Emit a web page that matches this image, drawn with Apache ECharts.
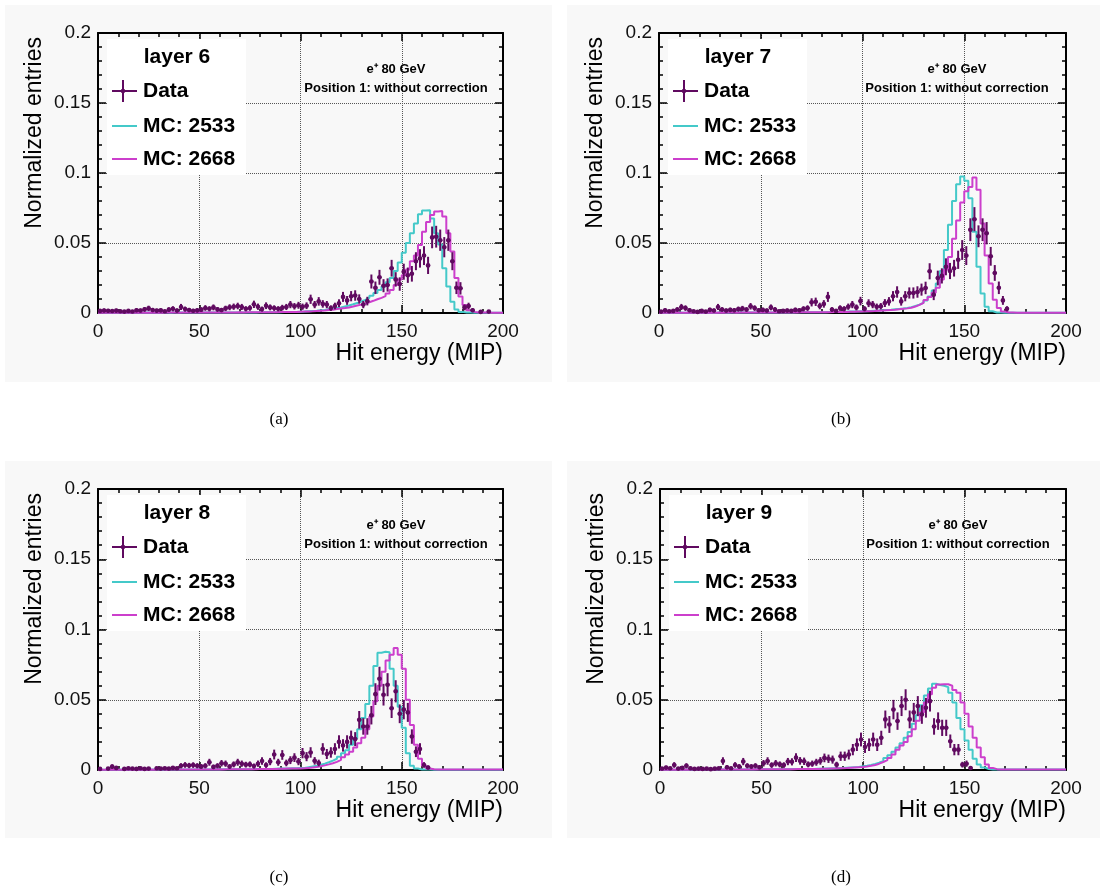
<!DOCTYPE html>
<html>
<head>
<meta charset="utf-8">
<script src="https://cdn.jsdelivr.net/npm/echarts/dist/echarts.min.js"></script>
<style>
html,body{margin:0;padding:0;background:#ffffff;}
#chart{width:1104px;height:893px;}
</style>
</head>
<body>
<div id="chart"></div>
<script>
// ---------------- DATA ----------------
// Histograms: 100 bins of 2 MIP from 0 to 200 MIP; value = normalized entries per bin.
const BIN_WIDTH = 2;
const X_MIN = 0, X_MAX = 200;
const xTickLabels = ['0', '50', '100', '150', '200'];
const yTickLabels = ['0', '0.05', '0.1', '0.15', '0.2'];

const layerLabels = ['layer 6', 'layer 7', 'layer 8', 'layer 9'];
const panelCaptions = ['(a)', '(b)', '(c)', '(d)'];
const seriesNames = ['Data', 'MC: 2533', 'MC: 2668'];
const annotationLines = ['e\u207A 80 GeV', 'Position 1: without correction'];
const xTitle = 'Hit energy (MIP)';
const yTitle = 'Normalized entries';
// approximate number of data entries per panel (sets the Poisson error bars)
const dataEntries = [900, 900, 900, 900];

// ---- layer 6 ----
const layer6_mc2533 = [
0.0003,0.0002,0.0003,0.0002,0.0002,0.0003,0.0002,0.0002,0.0003,0.0002,
0.0002,0.0003,0.0002,0.0003,0.0002,0.0003,0.0003,0.0002,0.0003,0.0003,
0.0003,0.0003,0.0003,0.0004,0.0003,0.0003,0.0004,0.0004,0.0004,0.0004,
0.0003,0.0004,0.0003,0.0004,0.0004,0.0004,0.0004,0.0005,0.0004,0.0005,
0.0005,0.0005,0.0006,0.0006,0.0006,0.0007,0.0007,0.0008,0.0008,0.0009,
0.0010,0.0012,0.0014,0.0016,0.0019,0.0022,0.0026,0.0030,0.0035,0.0040,
0.0047,0.0054,0.0062,0.0071,0.0082,0.0094,0.0108,0.0124,0.0142,0.0165,
0.0190,0.0220,0.0250,0.0300,0.0360,0.0430,0.0500,0.0570,0.0640,0.0705,
0.0732,0.0734,0.0675,0.0570,0.0490,0.0320,0.0190,0.0080,0.0025,0.0008,
0.0004,0.0003,0.0002,0.0002,0.0002,0.0002,0.0002,0.0002,0.0002,0.0002];
const layer6_mc2668 = [
0.0002,0.0002,0.0003,0.0002,0.0002,0.0002,0.0003,0.0002,0.0002,0.0002,
0.0002,0.0002,0.0003,0.0002,0.0003,0.0002,0.0003,0.0003,0.0003,0.0002,
0.0003,0.0003,0.0003,0.0003,0.0003,0.0004,0.0003,0.0004,0.0004,0.0004,
0.0004,0.0004,0.0004,0.0004,0.0005,0.0004,0.0005,0.0005,0.0005,0.0005,
0.0005,0.0006,0.0006,0.0006,0.0007,0.0007,0.0007,0.0008,0.0008,0.0009,
0.0010,0.0011,0.0012,0.0014,0.0016,0.0018,0.0021,0.0024,0.0028,0.0032,
0.0035,0.0040,0.0046,0.0053,0.0060,0.0068,0.0077,0.0087,0.0098,0.0108,
0.0120,0.0140,0.0165,0.0200,0.0240,0.0270,0.0310,0.0370,0.0410,0.0486,
0.0580,0.0650,0.0700,0.0725,0.0728,0.0690,0.0570,0.0440,0.0250,0.0117,
0.0057,0.0020,0.0008,0.0004,0.0003,0.0003,0.0002,0.0002,0.0002,0.0002];
const layer6_data = [
0.0015,0.0018,0.0016,0.0014,0.0017,0.0012,0.0010,0.0015,0.0011,0.0020,
0.0018,0.0026,0.0033,0.0021,0.0017,0.0019,0.0012,0.0024,0.0030,0.0018,
0.0043,0.0028,0.0021,0.0016,0.0019,0.0024,0.0036,0.0030,0.0040,0.0026,
0.0021,0.0033,0.0041,0.0045,0.0050,0.0043,0.0030,0.0036,0.0062,0.0045,
0.0028,0.0052,0.0040,0.0035,0.0030,0.0038,0.0043,0.0060,0.0048,0.0055,
0.0045,0.0052,0.0098,0.0060,0.0083,0.0065,0.0060,0.0035,0.0050,0.0070,
0.0115,0.0090,0.0120,0.0125,0.0100,0.0060,0.0085,0.0225,0.0180,0.0255,
0.0195,0.0200,0.0320,0.0240,0.0207,0.0295,0.0270,0.0280,0.0370,0.0390,
0.0410,0.0340,0.0540,0.0545,0.0520,0.0470,0.0520,0.0370,0.0180,0.0176,
0.0040,0.0050,0.0020,null,0.0008,null,0.0010,null,null,null];

// ---- layer 7 ----
const layer7_mc2533 = [
0.0002,0.0003,0.0002,0.0002,0.0003,0.0002,0.0002,0.0003,0.0002,0.0002,
0.0003,0.0002,0.0003,0.0002,0.0003,0.0003,0.0002,0.0003,0.0003,0.0003,
0.0003,0.0003,0.0003,0.0004,0.0003,0.0004,0.0004,0.0004,0.0004,0.0004,
0.0004,0.0005,0.0004,0.0005,0.0005,0.0005,0.0006,0.0005,0.0006,0.0006,
0.0006,0.0007,0.0007,0.0008,0.0008,0.0009,0.0010,0.0010,0.0011,0.0012,
0.0013,0.0014,0.0016,0.0017,0.0019,0.0021,0.0023,0.0026,0.0029,0.0032,
0.0036,0.0042,0.0050,0.0060,0.0073,0.0090,0.0118,0.0160,0.0210,0.0300,
0.0450,0.0630,0.0800,0.0920,0.0975,0.0945,0.0820,0.0580,0.0330,0.0140,
0.0045,0.0012,0.0004,0.0003,0.0002,0.0002,0.0002,0.0002,0.0002,0.0002,
0.0002,0.0002,0.0002,0.0002,0.0002,0.0002,0.0002,0.0002,0.0002,0.0002];
const layer7_mc2668 = [
0.0002,0.0002,0.0002,0.0003,0.0002,0.0002,0.0002,0.0002,0.0003,0.0002,
0.0002,0.0003,0.0002,0.0002,0.0003,0.0002,0.0003,0.0003,0.0002,0.0003,
0.0003,0.0003,0.0003,0.0003,0.0004,0.0003,0.0004,0.0004,0.0004,0.0004,
0.0004,0.0004,0.0005,0.0004,0.0005,0.0005,0.0005,0.0005,0.0006,0.0006,
0.0006,0.0006,0.0007,0.0007,0.0008,0.0008,0.0009,0.0009,0.0010,0.0011,
0.0012,0.0013,0.0014,0.0016,0.0017,0.0019,0.0021,0.0023,0.0026,0.0030,
0.0033,0.0038,0.0046,0.0058,0.0072,0.0092,0.0115,0.0145,0.0180,0.0240,
0.0310,0.0400,0.0530,0.0660,0.0790,0.0870,0.0900,0.0968,0.0880,0.0640,
0.0410,0.0210,0.0095,0.0035,0.0010,0.0004,0.0003,0.0002,0.0002,0.0002,
0.0002,0.0002,0.0002,0.0002,0.0002,0.0002,0.0002,0.0002,0.0002,0.0002];
const layer7_data = [
0.0010,0.0019,0.0012,0.0015,0.0025,0.0043,0.0035,0.0020,0.0012,0.0008,
0.0015,0.0010,0.0022,0.0018,0.0043,0.0025,0.0018,0.0022,0.0020,0.0028,
0.0032,0.0025,0.0048,0.0035,0.0020,0.0022,0.0018,0.0040,0.0025,0.0012,
0.0015,0.0018,0.0015,0.0022,0.0020,0.0030,0.0035,0.0076,0.0080,0.0050,
0.0065,0.0115,0.0025,0.0015,0.0035,0.0030,0.0045,0.0060,0.0040,0.0085,
0.0030,0.0070,0.0060,0.0045,0.0048,0.0071,0.0083,0.0120,0.0150,0.0083,
0.0120,0.0143,0.0143,0.0150,0.0167,0.0179,0.0298,0.0130,0.0250,0.0265,
0.0330,0.0300,0.0320,0.0380,0.0450,0.0410,0.0595,0.0670,0.0548,0.0595,
0.0570,0.0405,0.0286,0.0180,0.0090,0.0030,null,null,null,null,
null,null,null,null,null,null,null,null,null,null];

// ---- layer 8 ----
const layer8_mc2533 = [
0.0002,0.0002,0.0003,0.0002,0.0002,0.0003,0.0002,0.0002,0.0002,0.0003,
0.0002,0.0003,0.0002,0.0003,0.0003,0.0002,0.0003,0.0003,0.0003,0.0003,
0.0003,0.0004,0.0003,0.0004,0.0004,0.0004,0.0004,0.0004,0.0005,0.0004,
0.0005,0.0005,0.0005,0.0005,0.0006,0.0006,0.0006,0.0006,0.0007,0.0007,
0.0007,0.0008,0.0008,0.0009,0.0010,0.0010,0.0011,0.0012,0.0013,0.0014,
0.0015,0.0020,0.0025,0.0030,0.0037,0.0045,0.0055,0.0067,0.0080,0.0095,
0.0120,0.0140,0.0180,0.0225,0.0290,0.0370,0.0470,0.0600,0.0740,0.0835,
0.0842,0.0838,0.0720,0.0600,0.0450,0.0300,0.0120,0.0030,0.0010,0.0004,
0.0003,0.0003,0.0002,0.0002,0.0002,0.0002,0.0002,0.0002,0.0002,0.0002,
0.0002,0.0002,0.0002,0.0002,0.0002,0.0002,0.0002,0.0002,0.0002,0.0002];
const layer8_mc2668 = [
0.0002,0.0002,0.0002,0.0003,0.0002,0.0002,0.0003,0.0002,0.0002,0.0002,
0.0003,0.0002,0.0003,0.0002,0.0003,0.0003,0.0002,0.0003,0.0003,0.0003,
0.0003,0.0003,0.0004,0.0003,0.0004,0.0004,0.0004,0.0004,0.0004,0.0005,
0.0004,0.0005,0.0005,0.0005,0.0005,0.0006,0.0006,0.0006,0.0006,0.0007,
0.0007,0.0007,0.0008,0.0008,0.0009,0.0009,0.0010,0.0010,0.0011,0.0011,
0.0012,0.0015,0.0018,0.0022,0.0027,0.0033,0.0040,0.0048,0.0058,0.0072,
0.0090,0.0110,0.0130,0.0160,0.0190,0.0230,0.0290,0.0380,0.0490,0.0600,
0.0700,0.0780,0.0820,0.0868,0.0820,0.0720,0.0500,0.0320,0.0180,0.0080,
0.0030,0.0010,0.0005,0.0004,0.0003,0.0003,0.0003,0.0003,0.0003,0.0003,
0.0003,0.0003,0.0003,0.0003,0.0003,0.0003,0.0003,0.0003,0.0003,0.0003];
const layer8_data = [
0.0008,null,0.0010,0.0024,0.0015,null,0.0008,0.0012,0.0010,0.0008,
0.0012,0.0008,0.0010,null,0.0012,0.0010,0.0012,0.0010,0.0015,0.0012,
0.0030,0.0036,0.0032,0.0035,0.0030,0.0025,0.0030,0.0055,0.0022,0.0030,
0.0048,0.0045,0.0025,0.0040,0.0055,0.0045,0.0038,0.0040,0.0028,0.0045,
0.0064,0.0035,0.0060,0.0110,0.0055,0.0107,0.0050,0.0070,0.0088,0.0060,
0.0120,0.0095,0.0125,0.0065,0.0050,0.0150,0.0114,0.0125,0.0150,0.0200,
0.0175,0.0200,0.0230,0.0220,0.0357,0.0310,0.0310,0.0390,0.0540,0.0650,
0.0536,0.0607,0.0440,0.0560,0.0400,0.0430,0.0410,0.0238,0.0130,0.0150,
0.0036,0.0018,null,null,null,null,null,null,null,null,
null,null,null,null,null,null,null,null,null,null];

// ---- layer 9 ----
const layer9_mc2533 = [
0.0002,0.0003,0.0002,0.0002,0.0003,0.0002,0.0003,0.0002,0.0003,0.0003,
0.0003,0.0003,0.0003,0.0004,0.0003,0.0004,0.0004,0.0004,0.0004,0.0004,
0.0004,0.0005,0.0004,0.0005,0.0005,0.0005,0.0005,0.0006,0.0006,0.0006,
0.0006,0.0006,0.0007,0.0007,0.0007,0.0008,0.0008,0.0008,0.0009,0.0009,
0.0010,0.0011,0.0012,0.0013,0.0014,0.0016,0.0018,0.0020,0.0022,0.0026,
0.0030,0.0036,0.0043,0.0052,0.0065,0.0085,0.0105,0.0130,0.0160,0.0190,
0.0230,0.0270,0.0330,0.0390,0.0460,0.0530,0.0580,0.0614,0.0605,0.0600,
0.0590,0.0550,0.0480,0.0370,0.0290,0.0210,0.0145,0.0080,0.0040,0.0018,
0.0007,0.0004,0.0003,0.0003,0.0003,0.0003,0.0003,0.0003,0.0003,0.0003,
0.0003,0.0003,0.0003,0.0003,0.0003,0.0003,0.0003,0.0003,0.0003,0.0003];
const layer9_mc2668 = [
0.0002,0.0002,0.0003,0.0002,0.0002,0.0003,0.0002,0.0003,0.0003,0.0002,
0.0003,0.0003,0.0003,0.0003,0.0004,0.0003,0.0004,0.0004,0.0004,0.0004,
0.0004,0.0004,0.0005,0.0004,0.0005,0.0005,0.0005,0.0005,0.0006,0.0006,
0.0006,0.0006,0.0006,0.0007,0.0007,0.0007,0.0008,0.0008,0.0008,0.0009,
0.0009,0.0010,0.0011,0.0012,0.0013,0.0014,0.0016,0.0018,0.0020,0.0022,
0.0025,0.0030,0.0036,0.0045,0.0057,0.0070,0.0085,0.0110,0.0145,0.0175,
0.0200,0.0240,0.0290,0.0350,0.0410,0.0480,0.0540,0.0586,0.0608,0.0610,
0.0610,0.0600,0.0570,0.0550,0.0480,0.0400,0.0310,0.0230,0.0160,0.0090,
0.0040,0.0015,0.0006,0.0004,0.0004,0.0003,0.0003,0.0003,0.0003,0.0003,
0.0003,0.0003,0.0003,0.0003,0.0003,0.0003,0.0003,0.0003,0.0003,0.0003];
const layer9_data = [
0.0010,0.0017,0.0012,0.0036,0.0010,0.0015,0.0030,0.0012,0.0008,0.0010,
0.0008,0.0010,0.0006,0.0010,0.0012,0.0064,0.0020,0.0012,0.0036,0.0025,
0.0060,0.0030,0.0025,0.0030,0.0020,0.0048,0.0064,0.0035,0.0048,0.0040,
0.0035,0.0060,0.0058,0.0088,0.0065,0.0062,0.0040,0.0045,0.0055,0.0065,
0.0086,0.0080,0.0074,0.0038,0.0098,0.0098,0.0110,0.0145,0.0180,0.0217,
0.0164,0.0180,0.0217,0.0180,0.0229,0.0360,0.0324,0.0430,0.0348,0.0455,
0.0500,0.0360,0.0410,0.0455,0.0395,0.0443,0.0490,0.0310,0.0348,0.0300,
0.0300,0.0205,0.0145,0.0145,0.0038,0.0045,0.0014,null,null,null,
null,null,null,null,null,null,null,null,null,null,
null,null,null,null,null,null,null,null,null,null];

const panelMc2533 = [layer6_mc2533, layer7_mc2533, layer8_mc2533, layer9_mc2533];
const panelMc2668 = [layer6_mc2668, layer7_mc2668, layer8_mc2668, layer9_mc2668];
const panelData   = [layer6_data, layer7_data, layer8_data, layer9_data];

// ---------------- LAYOUT & STYLE ----------------
const FONT = '"Liberation Sans", Arial, Helvetica, sans-serif';
const SERIF = '"Liberation Serif", "Times New Roman", serif';
const C_DATA = '#600a60';
const C_2533 = '#44c9c9';
const C_2668 = '#cc3fcc';
const PANEL_BG = '#f8f8f8';

const layout = [
  {grid: {left: 98,  top: 33,  width: 405, height: 280}, bg: [5, 5, 547, 377],   cap: [279, 420]},
  {grid: {left: 659, top: 33,  width: 407, height: 280}, bg: [567, 5, 533, 377], cap: [841, 420]},
  {grid: {left: 98,  top: 489, width: 405, height: 281}, bg: [5, 461, 547, 377], cap: [279, 878]},
  {grid: {left: 660, top: 489, width: 406, height: 281}, bg: [567, 461, 533, 377], cap: [841, 878]}
];

// ---------------- BUILD OPTION ----------------
function histPoints(vals) {
  // bin low edges, plus the final upper edge so the last bin is drawn
  const pts = vals.map((v, i) => [X_MIN + i * BIN_WIDTH, v]);
  pts.push([X_MIN + vals.length * BIN_WIDTH, vals[vals.length - 1]]);
  return pts;
}
function dataPoints(vals, entries) {
  const out = [];
  vals.forEach((v, i) => {
    if (v === null) return;
    out.push([X_MIN + (i + 0.5) * BIN_WIDTH, v, Math.sqrt(v / entries)]);
  });
  return out;
}

const grids = [], xAxes = [], yAxes = [], series = [], graphics = [];

layout.forEach((L, k) => {
  grids.push(Object.assign({containLabel: false, show: false}, L.grid));
  const tickStyle = {color: '#000', width: 1.5};
  const baseX = {
    gridIndex: k, type: 'value', min: X_MIN, max: X_MAX, interval: 50,
    axisLine: {show: true, onZero: false, lineStyle: {color: '#000', width: 2}},
    axisTick: {show: true, inside: true, length: 8, lineStyle: tickStyle},
    minorTick: {show: true, splitNumber: 5, length: 4, lineStyle: tickStyle}
  };
  xAxes.push(Object.assign({}, baseX, {
    position: 'bottom',
    axisLabel: {show: true, color: '#111', fontSize: 19, fontFamily: FONT, margin: 9,
      formatter: (v) => xTickLabels[Math.round(v / 50)]},
    splitLine: {show: true, lineStyle: {color: '#555', type: 'dotted', width: 1}}
  }));
  xAxes.push(Object.assign({}, baseX, {
    position: 'top', axisLabel: {show: false}, splitLine: {show: false}
  }));
  const baseY = {
    gridIndex: k, type: 'value', min: 0, max: 0.2, interval: 0.05,
    axisLine: {show: true, onZero: false, lineStyle: {color: '#000', width: 2}},
    axisTick: {show: true, inside: true, length: 8, lineStyle: tickStyle},
    minorTick: {show: true, splitNumber: 5, length: 4, lineStyle: tickStyle}
  };
  yAxes.push(Object.assign({}, baseY, {
    position: 'left',
    axisLabel: {show: true, color: '#111', fontSize: 19, fontFamily: FONT, margin: 7,
      formatter: (v) => yTickLabels[Math.round(v / 0.05)]},
    splitLine: {show: true, lineStyle: {color: '#555', type: 'dotted', width: 1}}
  }));
  yAxes.push(Object.assign({}, baseY, {
    position: 'right', axisLabel: {show: false}, splitLine: {show: false}
  }));

  const xi = 2 * k, yi = 2 * k;
  series.push({
    name: seriesNames[1] + ' ' + k, type: 'line', step: 'end', xAxisIndex: xi, yAxisIndex: yi,
    data: histPoints(panelMc2533[k]), symbol: 'none', showSymbol: false, z: 3,
    lineStyle: {color: C_2533, width: 2}, silent: true
  });
  series.push({
    name: seriesNames[2] + ' ' + k, type: 'line', step: 'end', xAxisIndex: xi, yAxisIndex: yi,
    data: histPoints(panelMc2668[k]), symbol: 'none', showSymbol: false, z: 3,
    lineStyle: {color: C_2668, width: 2}, silent: true
  });
  series.push({
    name: seriesNames[0] + ' ' + k, type: 'custom', xAxisIndex: xi, yAxisIndex: yi, z: 4,
    data: dataPoints(panelData[k], dataEntries[k]), silent: true,
    renderItem: function (params, api) {
      const x = api.value(0), y = api.value(1), e = api.value(2);
      const c = api.coord([x, y]);
      const lo = api.coord([x, Math.max(0, y - e)]);
      const hi = api.coord([x, y + e]);
      const l = api.coord([x - BIN_WIDTH / 2, y]);
      const r = api.coord([x + BIN_WIDTH / 2, y]);
      return {type: 'group', children: [
        {type: 'line', shape: {x1: c[0], y1: lo[1], x2: c[0], y2: hi[1]}, style: {stroke: C_DATA, lineWidth: 2}},
        {type: 'line', shape: {x1: l[0], y1: c[1], x2: r[0], y2: c[1]}, style: {stroke: C_DATA, lineWidth: 2}},
        {type: 'circle', shape: {cx: c[0], cy: c[1], r: 2.3}, style: {fill: C_DATA}}
      ]};
    }
  });

  // panel background
  graphics.push({type: 'rect', z: -100, silent: true,
    shape: {x: L.bg[0], y: L.bg[1], width: L.bg[2], height: L.bg[3]}, style: {fill: PANEL_BG}});

  const gx = L.grid.left, gy = L.grid.top;
  // legend box
  graphics.push({type: 'rect', z: 50, silent: true,
    shape: {x: gx + 9, y: gy + 6, width: 139, height: 136}, style: {fill: '#ffffff'}});
  graphics.push({type: 'text', z: 51, x: gx + 79, y: gy + 24, silent: true,
    style: {text: layerLabels[k], font: 'bold 21px ' + FONT, fill: '#000', align: 'center', verticalAlign: 'middle'}});
  // Data entry (cross with dot)
  graphics.push({type: 'line', z: 51, silent: true, shape: {x1: gx + 14, y1: gy + 58, x2: gx + 39, y2: gy + 58}, style: {stroke: C_DATA, lineWidth: 2}});
  graphics.push({type: 'line', z: 51, silent: true, shape: {x1: gx + 25, y1: gy + 47, x2: gx + 25, y2: gy + 69}, style: {stroke: C_DATA, lineWidth: 2}});
  graphics.push({type: 'circle', z: 51, silent: true, shape: {cx: gx + 25, cy: gy + 58, r: 2.3}, style: {fill: C_DATA}});
  graphics.push({type: 'text', z: 51, x: gx + 45, y: gy + 58, silent: true,
    style: {text: seriesNames[0], font: 'bold 21px ' + FONT, fill: '#000', align: 'left', verticalAlign: 'middle'}});
  // MC entries
  graphics.push({type: 'line', z: 51, silent: true, shape: {x1: gx + 14, y1: gy + 93, x2: gx + 39, y2: gy + 93}, style: {stroke: C_2533, lineWidth: 2}});
  graphics.push({type: 'text', z: 51, x: gx + 45, y: gy + 93, silent: true,
    style: {text: seriesNames[1], font: 'bold 21px ' + FONT, fill: '#000', align: 'left', verticalAlign: 'middle'}});
  graphics.push({type: 'line', z: 51, silent: true, shape: {x1: gx + 14, y1: gy + 126, x2: gx + 39, y2: gy + 126}, style: {stroke: C_2668, lineWidth: 2}});
  graphics.push({type: 'text', z: 51, x: gx + 45, y: gy + 126, silent: true,
    style: {text: seriesNames[2], font: 'bold 21px ' + FONT, fill: '#000', align: 'left', verticalAlign: 'middle'}});
  // annotation
  graphics.push({type: 'text', z: 51, x: gx + 298, y: gy + 36, silent: true,
    style: {text: annotationLines[0], font: 'bold 13px ' + FONT, fill: '#000', align: 'center', verticalAlign: 'middle'}});
  graphics.push({type: 'text', z: 51, x: gx + 298, y: gy + 55, silent: true,
    style: {text: annotationLines[1], font: 'bold 13px ' + FONT, fill: '#000', align: 'center', verticalAlign: 'middle'}});
  // axis titles
  graphics.push({type: 'text', z: 51, x: gx - 63, y: gy + 4, rotation: Math.PI / 2, silent: true,
    style: {text: yTitle, font: '23px ' + FONT, fill: '#000', align: 'right', verticalAlign: 'middle'}});
  graphics.push({type: 'text', z: 51, x: gx + L.grid.width, y: gy + L.grid.height + 41, silent: true,
    style: {text: xTitle, font: '23px ' + FONT, fill: '#000', align: 'right', verticalAlign: 'middle'}});
  // caption
  graphics.push({type: 'text', z: 51, x: L.cap[0], y: L.cap[1], silent: true,
    style: {text: panelCaptions[k], font: '17px ' + SERIF, fill: '#000', align: 'center', verticalAlign: 'middle'}});
});

const chart = echarts.init(document.getElementById('chart'), null, {renderer: 'canvas'});
chart.setOption({
  animation: false,
  backgroundColor: '#ffffff',
  textStyle: {fontFamily: FONT},
  grid: grids,
  xAxis: xAxes,
  yAxis: yAxes,
  series: series,
  graphic: {elements: graphics}
});
</script>
</body>
</html>
